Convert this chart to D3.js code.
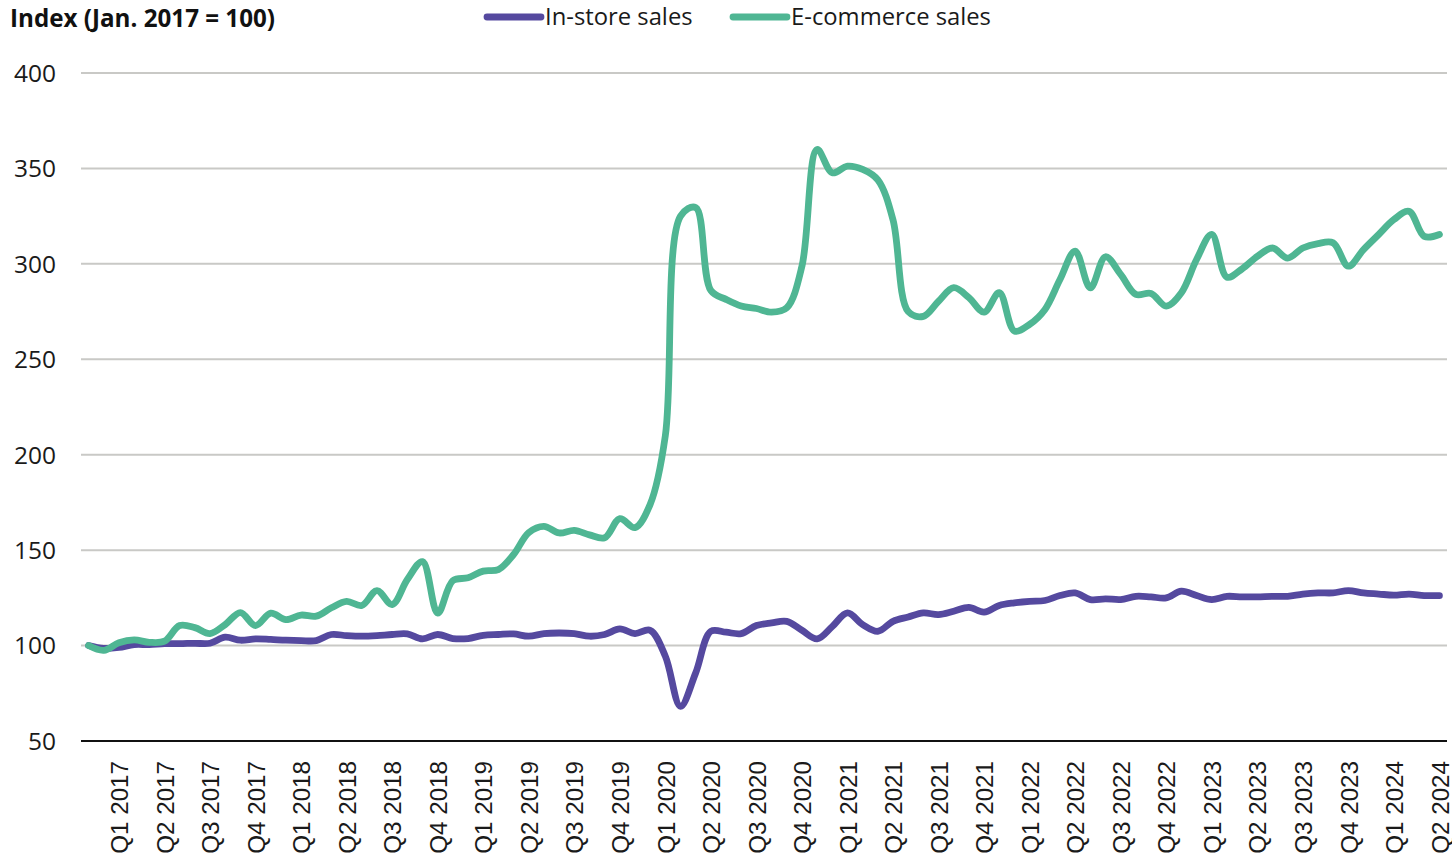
<!DOCTYPE html>
<html>
<head>
<meta charset="utf-8">
<script src="https://cdn.jsdelivr.net/npm/d3@7"></script>
<style>
  html, body { margin: 0; padding: 0; background: #fff; }
  svg { display: block; }
</style>
</head>
<body>
<svg id="chart" width="1452" height="853"></svg>
<script>
// ---- Data (monthly, Jan 2017 – Jun 2024) ----
const years = [2017, 2018, 2019, 2020, 2021, 2022, 2023, 2024];
const months = d3.range(90); // month index from Jan 2017

const instore = [
  100, 98.5, 99, 100.5, 100.5, 101, 101, 101.2, 101.2, 104.4, 102.8, 103.5,
  103.2, 102.8, 102.6, 102.6, 105.8, 105.2, 104.9, 105.2, 105.8, 106.1, 103.5, 105.8,
  103.7, 103.7, 105.4, 105.8, 106.1, 104.9, 106.3, 106.6, 106.3, 104.9, 105.8, 108.7,
  106.3, 108, 94.4, 68.2, 85.7, 107.5, 107, 106.3, 110.5, 111.9, 112.7, 108,
  103.5, 110, 117.1, 111, 107.5, 112.7, 115, 117.1, 116.2, 118, 120, 117.5,
  121, 122.4, 123.2, 123.6, 126.2, 127.6, 124.1, 124.5, 124.1, 125.8, 125.5, 125,
  128.5, 126.2, 124.1, 125.8, 125.5, 125.5, 125.8, 125.8, 127, 127.6, 127.6, 128.8,
  127.6, 127, 126.4, 127, 126.2, 126.2
];

const ecommerce = [
  100, 97.5, 101.5, 103, 101.7, 102.3, 110.5, 109.4, 106.3, 111, 117.3, 110.5,
  117, 113.6, 116, 115.4, 119.8, 123.2, 121, 128.8, 121.5, 134.6, 144, 117,
  134, 135.5, 139, 139.8, 147.7, 159.2, 162.5, 159, 160.4, 158, 156.5, 166.5,
  161.8, 174, 210, 325, 329.5, 286, 281.4, 277.9, 276.6, 274.7, 277, 298.8,
  359.9, 347.7, 351.2, 349.5, 344, 323, 275, 272.5, 280.4, 287.5, 282.3, 274.7,
  284.9, 264.8, 268.3, 276, 291.8, 306.7, 287.4, 303.7, 294.5, 284, 284.5, 277.9,
  284.9, 302.3, 315.4, 293, 297.4, 303.9, 308.3, 303, 308.3, 310.6, 311, 298.8,
  307.5, 315.4, 323.2, 327.5, 314.4, 315.4
];

const yTicks = [50, 100, 150, 200, 250, 300, 350, 400];
// quarter labels placed at the last month of each quarter
const quarterLabels = [];
years.forEach(yr => ["Q1", "Q2", "Q3", "Q4"].forEach(q => quarterLabels.push(q + " " + yr)));
const xLabels = quarterLabels.slice(0, 30);

const seriesNames = ["In-store sales", "E-commerce sales"];
const seriesColors = ["#55499f", "#4fb693"];

// ---- Layout ----
const svg = d3.select("#chart");
const plotLeft = 81, plotRight = 1447, plotTop = 73, plotBottom = 741;

const x = d3.scalePoint().domain(months).range([plotLeft, plotRight]).padding(0.5);
const y = d3.scaleLinear().domain([50, 400]).range([plotBottom, plotTop]);

// gridlines
svg.append("g")
  .selectAll("line")
  .data(yTicks.filter(t => t !== 50))
  .join("line")
  .attr("x1", plotLeft).attr("x2", plotRight)
  .attr("y1", d => y(d)).attr("y2", d => y(d))
  .attr("stroke", "#c9c9c6").attr("stroke-width", 2);

// y axis labels
const yAxis = d3.axisLeft(y).tickValues(yTicks).tickSize(0).tickPadding(0);
const gy = svg.append("g").attr("transform", `translate(56,0)`).call(yAxis);
gy.select(".domain").remove();
gy.selectAll("text")
  .attr("font-family", "'Open Sans', sans-serif")
  .attr("font-size", "24.5px")
  .attr("fill", "#1a1a1a")
  .attr("dy", "0.34em");

// x axis
const xAxis = d3.axisBottom(x)
  .tickValues(months.filter(m => m % 3 === 2))
  .tickFormat(m => xLabels[(m - 2) / 3])
  .tickSize(0);
const gx = svg.append("g").attr("transform", `translate(0,${plotBottom})`).call(xAxis);
gx.select(".domain").attr("stroke", "#111").attr("stroke-width", 2)
  .attr("d", `M${plotLeft},0H${plotRight}`);
gx.selectAll("text")
  .attr("font-family", "'Liberation Sans', Arial, sans-serif")
  .attr("font-size", "24.2px")
  .attr("fill", "#1a1a1a")
  .attr("text-anchor", "end")
  .attr("transform", "rotate(-90)")
  .attr("x", -20)
  .attr("y", 0)
  .attr("dy", "0.36em");

// lines
const line = d3.line()
  .x((d, i) => x(i))
  .y(d => y(d))
  .curve(d3.curveCatmullRom.alpha(0.5));

[instore, ecommerce].forEach((s, k) => {
  svg.append("path")
    .datum(s)
    .attr("fill", "none")
    .attr("stroke", seriesColors[k])
    .attr("stroke-width", 6.8)
    .attr("stroke-linejoin", "round")
    .attr("stroke-linecap", "round")
    .attr("d", line);
});

// title
svg.append("text")
  .attr("x", 10).attr("y", 27)
  .attr("font-family", "'Open Sans', sans-serif")
  .attr("font-weight", "bold")
  .attr("font-size", "24.2px")
  .attr("fill", "#111")
  .text("Index (Jan. 2017 = 100)");

// legend
const legendX = [487, 733];
const lg = svg.append("g");
seriesNames.forEach((name, k) => {
  lg.append("line")
    .attr("x1", legendX[k]).attr("x2", legendX[k] + 54)
    .attr("y1", 17).attr("y2", 17)
    .attr("stroke", seriesColors[k])
    .attr("stroke-width", 6.8)
    .attr("stroke-linecap", "round");
  lg.append("text")
    .attr("x", legendX[k] + 58).attr("y", 25)
    .attr("font-family", "'Open Sans', sans-serif")
    .attr("font-size", "23.8px")
    .attr("fill", "#1a1a1a")
    .text(name);
});
</script>
</body>
</html>
